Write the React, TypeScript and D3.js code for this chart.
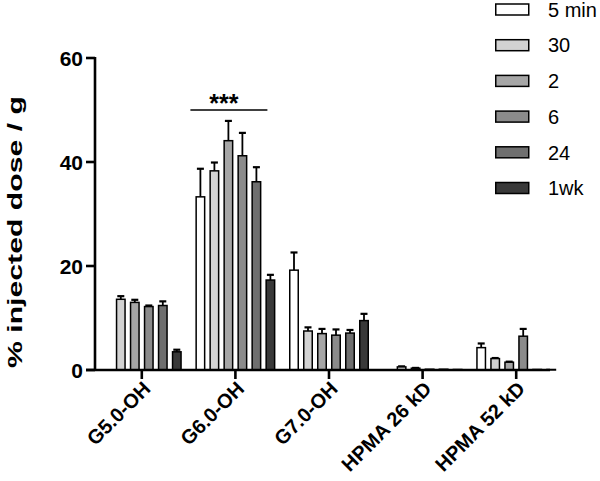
import React from "react";
import * as d3 from "d3";

const categories = ["G5.0-OH", "G6.0-OH", "G7.0-OH", "HPMA 26 kD", "HPMA 52 kD"];
const seriesNames = ["5 min", "30", "2", "6", "24", "1wk"];
const seriesColors = ["#ffffff", "#d2d2d2", "#a6a6a6", "#8b8b8b", "#6f6f6f", "#393939"];

// values[category][series]
const meanG5 = [null, 13.6, 13.0, 12.2, 12.4, 3.5];
const errG5 = [null, 0.6, 0.5, 0.2, 0.8, 0.4];
const meanG6 = [33.3, 38.3, 44.1, 41.2, 36.2, 17.3];
const errG6 = [5.4, 1.6, 3.8, 4.4, 2.8, 1.0];
const meanG7 = [19.2, 7.5, 7.0, 6.7, 7.1, 9.5];
const errG7 = [3.4, 0.7, 0.9, 1.1, 0.6, 1.3];
const meanH26 = [0.05, 0.6, 0.35, 0.15, 0.15, 0.1];
const errH26 = [0, 0.1, 0.05, 0, 0, 0];
const meanH52 = [4.3, 2.2, 1.5, 6.5, 0.1, 0.1];
const errH52 = [0.8, 0.1, 0.1, 1.4, 0, 0];

const means = [meanG5, meanG6, meanG7, meanH26, meanH52];
const errors = [errG5, errG6, errG7, errH26, errH52];

const yTicks = [0, 20, 40, 60];
const yTitle = "% injected dose / g";
const sigLabel = "***";
const sigLevel = 50;

const W = 600;
const H = 481;
const FONT = "'Liberation Sans', Arial, Helvetica, sans-serif";

export default function App() {
  const y = d3.scaleLinear().domain([0, 60]).range([370, 58]);
  const x = d3.scaleBand().domain(categories).range([95, 563]).padding(0);
  const groupW = 80;
  const sub = d3
    .scaleBand()
    .domain(seriesNames)
    .range([0, groupW])
    .paddingInner(4 / 14)
    .paddingOuter(0);
  const bw = sub.bandwidth();
  const groupX0 = (c: string) => (x(c) as number) + x.bandwidth() / 2 - groupW / 2;

  const sigX1 = groupX0("G6.0-OH") + (sub("5 min") as number) - 5;
  const sigX2 = groupX0("G6.0-OH") + (sub("24") as number) + bw + 6;
  const sigY = y(sigLevel);

  return (
    <svg
      width={W}
      height={H}
      style={{ position: "absolute", left: 0, top: 0, background: "#fff" }}
      fontFamily={FONT}
    >
      <rect x={0} y={0} width={W} height={H} fill="#fff" />
      {/* bars */}
      {categories.map((c, ci) => (
        <g key={c}>
          {seriesNames.map((s, si) => {
            const v = means[ci][si];
            if (v === null || v === undefined) return null;
            const e = errors[ci][si] || 0;
            const bx = groupX0(c) + (sub(s) as number);
            const top = y(v);
            const cx = bx + bw / 2;
            return (
              <g key={s}>
                {e > 0 && (
                  <g stroke="#000" strokeWidth={1.8}>
                    <line x1={cx} x2={cx} y1={top} y2={y(v + e)} />
                    <line x1={cx - 3.5} x2={cx + 3.5} y1={y(v + e)} y2={y(v + e)} strokeWidth={2.2} />
                  </g>
                )}
                <rect
                  x={bx + 0.75}
                  y={top}
                  width={bw - 1.5}
                  height={Math.max(0, y(0) - top)}
                  fill={seriesColors[si]}
                  stroke="#000"
                  strokeWidth={1.5}
                />
              </g>
            );
          })}
        </g>
      ))}

      {/* axes */}
      <g stroke="#000" strokeWidth={2.6} fill="none">
        <line x1={95} x2={95} y1={y(60) - 1} y2={y(0) + 1} />
        <line x1={86} x2={550} y1={y(0)} y2={y(0)} />
        {yTicks.map((t) => (
          <line key={t} x1={86} x2={95} y1={y(t)} y2={y(t)} />
        ))}
        {categories.map((c) => {
          const cx = (x(c) as number) + x.bandwidth() / 2;
          return <line key={c} x1={cx} x2={cx} y1={y(0)} y2={y(0) + 9} />;
        })}
      </g>

      {/* y tick labels */}
      {yTicks.map((t) => (
        <text
          key={t}
          x={83}
          y={y(t)}
          dy="0.36em"
          textAnchor="end"
          fontSize={21}
          fontWeight="bold"
          fill="#000"
        >
          {t}
        </text>
      ))}

      {/* y title */}
      <text
        transform={`translate(22,232) rotate(-90)`}
        textAnchor="middle"
        fontSize={21}
        fontWeight="bold"
        fill="#000"
        textLength={272}
        lengthAdjust="spacingAndGlyphs"
      >
        {yTitle}
      </text>

      {/* x labels */}
      {categories.map((c) => {
        const cx = (x(c) as number) + x.bandwidth() / 2;
        return (
          <text
            key={c}
            transform={`translate(${cx + 10},${y(0) + 20}) rotate(-45)`}
            textAnchor="end"
            fontSize={20}
            fontWeight="bold"
            fill="#000"
          >
            {c}
          </text>
        );
      })}

      {/* significance */}
      <line x1={sigX1} x2={sigX2} y1={sigY} y2={sigY} stroke="#000" strokeWidth={1.5} />
      <text
        x={(sigX1 + sigX2) / 2 - 5}
        y={sigY + 2}
        textAnchor="middle"
        fontSize={25}
        fontWeight="bold"
        fill="#000"
      >
        {sigLabel}
      </text>

      {/* legend */}
      {seriesNames.map((s, i) => {
        const cy = 9.5 + i * 35.7;
        return (
          <g key={s}>
            <rect
              x={495.75}
              y={cy - 5.5}
              width={33}
              height={11}
              fill={seriesColors[i]}
              stroke="#000"
              strokeWidth={1.5}
            />
            <text x={548} y={cy} dy="0.36em" fontSize={20} fill="#000">
              {s}
            </text>
          </g>
        );
      })}
    </svg>
  );
}
